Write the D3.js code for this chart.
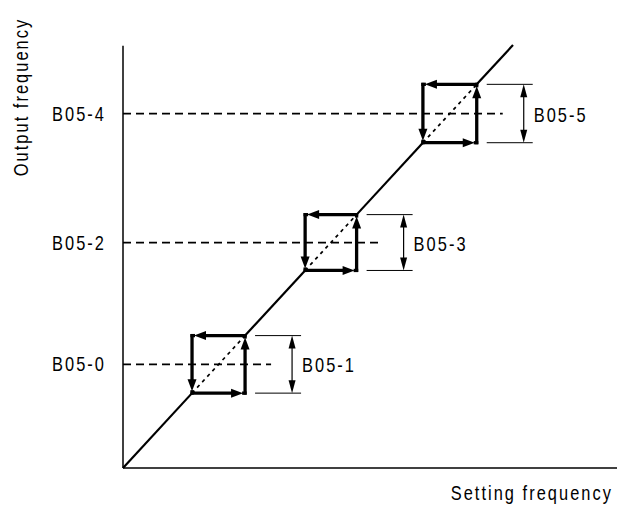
<!DOCTYPE html>
<html><head><meta charset="utf-8">
<script src="https://cdn.jsdelivr.net/npm/d3@7"></script>
<style>
html,body{margin:0;padding:0;background:#fff;}
text{font-family:"Liberation Sans",Arial,sans-serif;fill:#000;}
</style></head>
<body><svg id="c" width="617" height="506"></svg>
<script>
// ---- data ----
const levelLabels = ["B05-0", "B05-2", "B05-4"];   // hold-level parameters (output frequency)
const levels      = [24.5, 53.3, 83.8];            // centre frequency of each jump band (%)
const bandLabels  = ["B05-1", "B05-3", "B05-5"];   // jump width parameters
const bandWidths  = [13.6, 13.2, 13.8];            // width of each jump band (%)
const xTitle = "Setting frequency";
const yTitle = "Output frequency";

// ---- scales ----
const svg = d3.select("#c");
const x = d3.scaleLinear().domain([0, 100]).range([123, 513]);
const y = d3.scaleLinear().domain([0, 100]).range([468, 45]);
const xEnd = x.invert(617);

function txt(g, s, px, py, anchor, rot) {
  const t = g.append("g").attr("transform", `translate(${px},${py}) rotate(${rot||0}) scale(0.82,1)`)
    .append("text").attr("text-anchor", anchor).attr("font-size", 20)
    .style("letter-spacing", "2.5px").text(s);
  return t;
}

// axes
svg.append("line").attr("x1", x(0)).attr("x2", x(0)).attr("y1", y(0)).attr("y2", y(99.8))
  .attr("stroke", "#000").attr("stroke-width", 1.5);
svg.append("line").attr("x1", x(0)).attr("x2", x(xEnd)).attr("y1", y(0)).attr("y2", y(0))
  .attr("stroke", "#000").attr("stroke-width", 1.5);

// axis titles
txt(svg, yTitle, 28, 97, "middle", -90);
txt(svg, xTitle, 613, 500, "end");

const bands = levels.map((c, i) => ({ c, w: bandWidths[i], lo: c - bandWidths[i] / 2, hi: c + bandWidths[i] / 2, lab: levelLabels[i], blab: bandLabels[i] }));

// solid diagonal outside bands
let prev = 0;
const segs = [];
bands.forEach(b => { segs.push([prev, b.lo]); prev = b.hi; });
segs.push([prev, 100]);
svg.selectAll("line.diag").data(segs).join("line").attr("class", "diag")
  .attr("x1", d => x(d[0])).attr("y1", d => y(d[0])).attr("x2", d => x(d[1])).attr("y2", d => y(d[1]))
  .attr("stroke", "#000").attr("stroke-width", 2.2);

// dotted diagonal inside bands
svg.selectAll("line.dot").data(bands).join("line").attr("class", "dot")
  .attr("x1", d => x(d.lo)).attr("y1", d => y(d.lo)).attr("x2", d => x(d.hi)).attr("y2", d => y(d.hi))
  .attr("stroke", "#000").attr("stroke-width", 1.7).attr("stroke-dasharray", "3.5,4");

// dashed level lines
svg.selectAll("line.lvl").data(bands).join("line").attr("class", "lvl")
  .attr("x1", x(0)).attr("y1", d => y(d.c)).attr("x2", d => x(d.hi) + 26).attr("y2", d => y(d.c))
  .attr("stroke", "#000").attr("stroke-width", 1.7).attr("stroke-dasharray", "8,5");

// level labels on left
bands.forEach(b => txt(svg, b.lab, 106, y(b.c) + 7, "end"));

// hysteresis boxes
function arrowHead(g, tx, ty, dx, dy, len, half) {
  const bx = tx - dx * len, by = ty - dy * len;
  const px = -dy, py = dx;
  g.append("path").attr("d", `M${tx},${ty}L${bx + px * half},${by + py * half}L${bx - px * half},${by - py * half}Z`)
    .attr("fill", "#000");
}
bands.forEach(b => {
  const g = svg.append("g");
  const L = x(b.lo), R = x(b.hi), T = y(b.hi), B = y(b.lo);
  const edges = [
    [L, B, R, B], // bottom -> right
    [R, B, R, T], // right -> up
    [R, T, L, T], // top -> left
    [L, T, L, B]  // left -> down
  ];
  edges.forEach(e => {
    const dx = Math.sign(e[2] - e[0]), dy = Math.sign(e[3] - e[1]);
    const tx = e[2] - dx * 2, ty = e[3] - dy * 2;
    g.append("line").attr("x1", e[0] - dx * 1.5).attr("y1", e[1] - dy * 1.5)
      .attr("x2", tx - dx * 8).attr("y2", ty - dy * 8)
      .attr("stroke", "#000").attr("stroke-width", 3.3);
    arrowHead(g, tx, ty, dx, dy, 12, 4.5);
  });
  edges.forEach(e => {
    const dx = Math.sign(e[2] - e[0]), dy = Math.sign(e[3] - e[1]);
    g.append("line").attr("x1", e[2] - dx * 3).attr("y1", e[3] - dy * 3).attr("x2", e[2] + dx * 1.6).attr("y2", e[3] + dy * 1.6)
      .attr("stroke", "#000").attr("stroke-width", 3.3);
  });
});

// width dimension markers
bands.forEach(b => {
  const g = svg.append("g");
  const R = x(b.hi), T = y(b.hi), B = y(b.lo);
  const x0 = R + 10, x1 = R + 56, ax = R + 47;
  g.append("line").attr("x1", x0).attr("x2", x1).attr("y1", T).attr("y2", T).attr("stroke", "#000").attr("stroke-width", 1);
  g.append("line").attr("x1", x0).attr("x2", x1).attr("y1", B).attr("y2", B).attr("stroke", "#000").attr("stroke-width", 1);
  g.append("line").attr("x1", ax).attr("x2", ax).attr("y1", T + 10).attr("y2", B - 10).attr("stroke", "#000").attr("stroke-width", 1.2);
  arrowHead(g, ax, T, 0, -1, 13, 3.5);
  arrowHead(g, ax, B, 0, 1, 13, 3.5);
  txt(g, b.blab, ax + 10, y(b.c) + 8, "start");
});
</script></body></html>
